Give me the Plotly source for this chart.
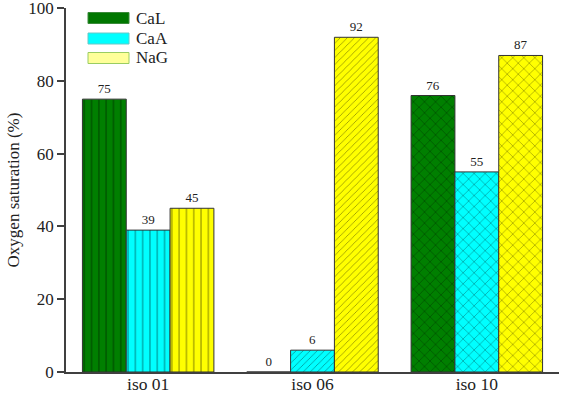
import plotly.graph_objects as go

categories = ["iso 01", "iso 06", "iso 10"]
series_names = ["CaL", "CaA", "NaG"]
cal_values = [75, 0, 76]
caa_values = [39, 6, 55]
nag_values = [45, 92, 87]
y_ticks = [0, 20, 40, 60, 80, 100]

bar_colors = ["#007f00", "#00ffff", "#ffff00"]
legend_colors = ["#007700", "#00ffff", "#ffff99"]
legend_borders = ["#3a8a3a", "#66c8c8", "#9acd62"]
pattern_shapes = ["|", "/", "x"]
pattern_sizes = [7.3, 5, 7.8]

FONT = "Liberation Serif, Times New Roman, serif"
W, H = 561, 394
L, R, T, B = 66, 2, 8, 22

fig = go.Figure()
for name, vals, col in zip(series_names, [cal_values, caa_values, nag_values], bar_colors):
    fig.add_trace(go.Bar(
        x=categories, y=vals, name=name,
        marker=dict(
            color=col,
            line=dict(color="#333333", width=1),
            pattern=dict(shape=pattern_shapes, size=pattern_sizes, solidity=0.12,
                         fgcolor="#000000", fgopacity=0.55, fillmode="overlay"),
        ),
        text=[str(v) for v in vals], textposition="outside",
        textfont=dict(family=FONT, size=13, color="#222222"),
        cliponaxis=False, showlegend=False, hoverinfo="skip",
    ))

# legend drawn as swatches + labels in paper coordinates
pw = W - L - R
ph = H - T - B
def px2x(px):
    return (px - L) / pw
def py2y(py):
    return 1 - (py - T) / ph

shapes = []
annotations = []
legend_rows = [12.5, 33, 52.5]
for name, c, bc, ytop in zip(series_names, legend_colors, legend_borders, legend_rows):
    shapes.append(dict(type="rect", xref="paper", yref="paper",
                       x0=px2x(88), x1=px2x(129), y0=py2y(ytop + 11), y1=py2y(ytop),
                       fillcolor=c, line=dict(color=bc, width=1)))
    annotations.append(dict(xref="paper", yref="paper", x=px2x(134), y=py2y(ytop + 5.5),
                            text=name, showarrow=False, xanchor="left", yanchor="middle",
                            font=dict(family=FONT, size=17, color="#222222")))

fig.update_layout(
    width=W, height=H,
    margin=dict(l=L, r=R, t=T, b=B),
    paper_bgcolor="white", plot_bgcolor="white",
    barmode="group", bargap=0.2, bargroupgap=0,
    font=dict(family=FONT, color="#222222"),
    shapes=shapes, annotations=annotations,
    xaxis=dict(range=[-0.5, 2.5], showline=True, linecolor="#404040", linewidth=1.5,
               ticks="", tickfont=dict(family=FONT, size=17.5, color="#222222"),
               ticklabelstandoff=-5, ticklabeloverflow="allow",
               automargin=False, showgrid=False, zeroline=False),
    yaxis=dict(range=[0, 100.05], tickvals=y_ticks, showline=True, linecolor="#404040",
               linewidth=1.5, ticks="outside", ticklen=7, tickwidth=1.5, tickcolor="#404040",
               tickfont=dict(family=FONT, size=17, color="#222222"),
               ticklabeloverflow="allow",
               title=dict(text="Oxygen saturation (%)", font=dict(family=FONT, size=17, color="#222222"),
                          standoff=4),
               automargin=False, showgrid=False, zeroline=False),
)

fig.write_html("out.html", config={"displayModeBar": False},
               post_script="document.body.style.margin='0';document.body.style.overflow='hidden';")
